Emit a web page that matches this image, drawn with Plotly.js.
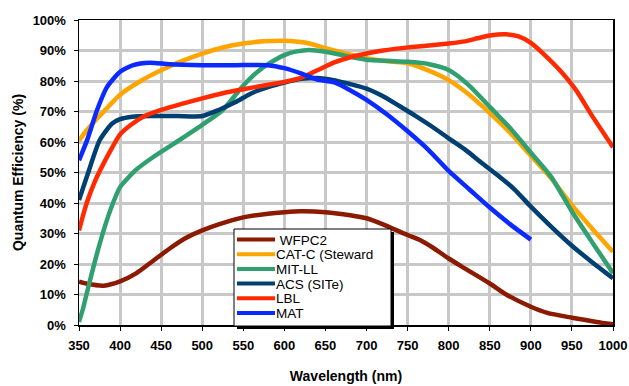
<!DOCTYPE html>
<html>
<head>
<meta charset="utf-8">
<script src="https://cdn.plot.ly/plotly-3.0.1.min.js"></script>
<style>html,body{margin:0;padding:0;background:#fff;}#chart{width:629px;height:386px;}</style>
</head>
<body>
<div id="chart"></div>
<script>
const wfpc2X = [350,360,380,400,420,440,460,480,500,520,550,580,600,620,650,680,700,720,750,765,780,800,820,850,870,900,920,950,980,1000];
const wfpc2Y = [14.2,13.5,12.9,14.3,17,21,25,28.5,31,33,35.3,36.5,37,37.3,37,36,35,33,29.5,27.9,25.5,21.8,18.5,13.6,10,6,4,2.4,1,0.2];

const catcX = [350,360,375,400,425,450,475,500,525,550,575,600,625,650,675,700,725,750,775,800,825,850,875,900,925,950,975,1000];
const catcY = [60.5,64,68.5,75.5,80,83.5,86.5,89,91,92.3,93,93.2,92.6,90.8,89,87.5,86.5,85.8,83.5,80.3,75.5,69.5,63,55.5,48,39.3,31.5,24];

const mitX = [350,355,360,370,380,390,400,420,440,460,480,500,525,550,565,580,600,615,630,650,675,700,725,750,775,800,825,850,875,900,925,950,975,1000];
const mitY = [1,5.5,11,21.5,31,39,45.2,51,55,58.5,62,65.6,70.5,78.5,82.5,85.5,88.5,89.7,90.2,89.6,88.2,87,86.6,86.3,85.6,83.6,78.5,71.5,64.5,56.5,48.5,37.2,27,17];

const acsX = [350,360,375,390,400,415,440,470,500,520,540,560,580,600,620,640,660,680,700,720,740,760,780,800,820,840,860,880,900,925,950,975,1000];
const acsY = [41,49,60.5,66,67.5,68.3,68.5,68.5,68.5,70.5,73,76,78,79.5,80.7,81,80.3,79,77.5,75,71.8,68.5,65,61.2,57.5,53.2,49,44.5,38.8,32.2,26,20.5,15.3];

const lblX = [350,355,360,370,380,390,400,415,430,450,475,500,525,550,575,600,620,640,660,680,700,720,740,770,800,820,835,850,870,885,900,915,935,955,975,1000];
const lblY = [31,36,40.5,47.5,53,58,62.5,66,68.5,70.5,72.5,74.3,76,77.3,78.5,79.7,81,83.5,86,87.8,89,90,90.7,91.5,92.3,93,94,94.9,95.3,94.6,92.5,89,83.6,77,68.4,58.3];

const matX = [350,360,372,384,400,416,436,460,500,540,580,600,620,640,660,680,700,725,750,775,800,825,850,875,900];
const matY = [54,60.7,70.5,78,83,85.2,86,85.5,85.2,85.2,85.2,84.2,82.5,80.5,79.6,77,73.8,69,63.5,57.5,50.5,44.5,38.5,33,28];

const seriesNames = ["WFPC2","CAT-C (Steward","MIT-LL","ACS (SITe)","LBL","MAT"];
const legendLabels = ["\u00a0WFPC2","CAT-C (Steward","MIT-LL","ACS (SITe)","LBL","MAT"];
const seriesColors = ["#8B1A00","#FFA500","#30A070","#003F72","#FF2A00","#0A2AFF"];
const xs = [wfpc2X,catcX,mitX,acsX,lblX,matX];
const ys = [wfpc2Y,catcY,mitY,acsY,lblY,matY];

const xTicks = [350,400,450,500,550,600,650,700,750,800,850,900,950,1000];
const yTicks = [0,10,20,30,40,50,60,70,80,90,100];
const yTickText = yTicks.map(v => v + "%");

const traces = seriesNames.map((n,i) => ({
  x: xs[i], y: ys[i], name: n, type: "scatter", mode: "lines",
  line: {color: seriesColors[i], width: 4.5, shape: "spline", smoothing: 0.6},
  showlegend: false
}));

// custom legend (paper coordinates derived from pixel layout)
const W = 629, H = 386, mL = 79, mR = 16, mT = 20, mB = 61;
const pw = W - mL - mR, ph = H - mT - mB;
const px = v => (v - mL) / pw;
const py = v => (H - mB - v) / ph;

const shapes = [];
const annotations = [];
shapes.push({type: "rect", xref: "paper", yref: "paper", layer: "above",
  x0: px(237), x1: px(394), y0: py(329), y1: py(232),
  fillcolor: "#000", line: {width: 0}});
shapes.push({type: "rect", xref: "paper", yref: "paper", layer: "above",
  x0: px(234), x1: px(391), y0: py(326), y1: py(229),
  fillcolor: "#fff", line: {color: "#000", width: 1}});
const rowY0 = 239.5, rowStep = 14.7;
seriesNames.forEach((n, i) => {
  const yy = rowY0 + i * rowStep;
  shapes.push({type: "line", xref: "paper", yref: "paper", layer: "above",
    x0: px(237), x1: px(275), y0: py(yy), y1: py(yy),
    line: {color: seriesColors[i], width: 4}});
  annotations.push({xref: "paper", yref: "paper", x: px(275), y: py(yy + 0.5),
    xanchor: "left", yanchor: "middle", showarrow: false, text: legendLabels[i],
    borderpad: 0,
    font: {family: "Liberation Sans, Arial, sans-serif", size: 13.5, color: "#000"}});
});

const font = "Liberation Sans, Arial, sans-serif";
const layout = {
  width: W, height: H,
  margin: {l: mL, r: mR, t: mT, b: mB},
  paper_bgcolor: "#fff", plot_bgcolor: "#fff",
  showlegend: false,
  shapes: shapes, annotations: annotations,
  xaxis: {
    range: [350,1000], tickvals: xTicks, ticktext: xTicks.map(String),
    showgrid: true, gridcolor: "#c8c8c8", gridwidth: 3,
    showline: true, linecolor: "#000", linewidth: 1.5, mirror: true,
    ticks: "outside", ticklen: 4, tickcolor: "#000", tickwidth: 1,
    ticklabelstandoff: 4,
    tickfont: {family: font, size: 13, color: "#000", weight: "bold"},
    zeroline: false,
    title: {text: "Wavelength (nm)", font: {family: font, size: 14, color: "#000", weight: "bold"}, standoff: 19}
  },
  yaxis: {
    range: [0,100], tickvals: yTicks, ticktext: yTickText,
    showgrid: true, gridcolor: "#c8c8c8", gridwidth: 3,
    showline: true, linecolor: "#000", linewidth: 1.5, mirror: true,
    ticks: "outside", ticklen: 4, tickcolor: "#000", tickwidth: 1,
    ticklabelstandoff: 5,
    tickfont: {family: font, size: 13, color: "#000", weight: "bold"},
    zeroline: false,
    title: {text: "Quantum Efficiency (%)", font: {family: font, size: 14, color: "#000", weight: "bold"}, standoff: 6}
  }
};

Plotly.newPlot("chart", traces, layout, {displayModeBar: false, staticPlot: true});
</script>
</body>
</html>
